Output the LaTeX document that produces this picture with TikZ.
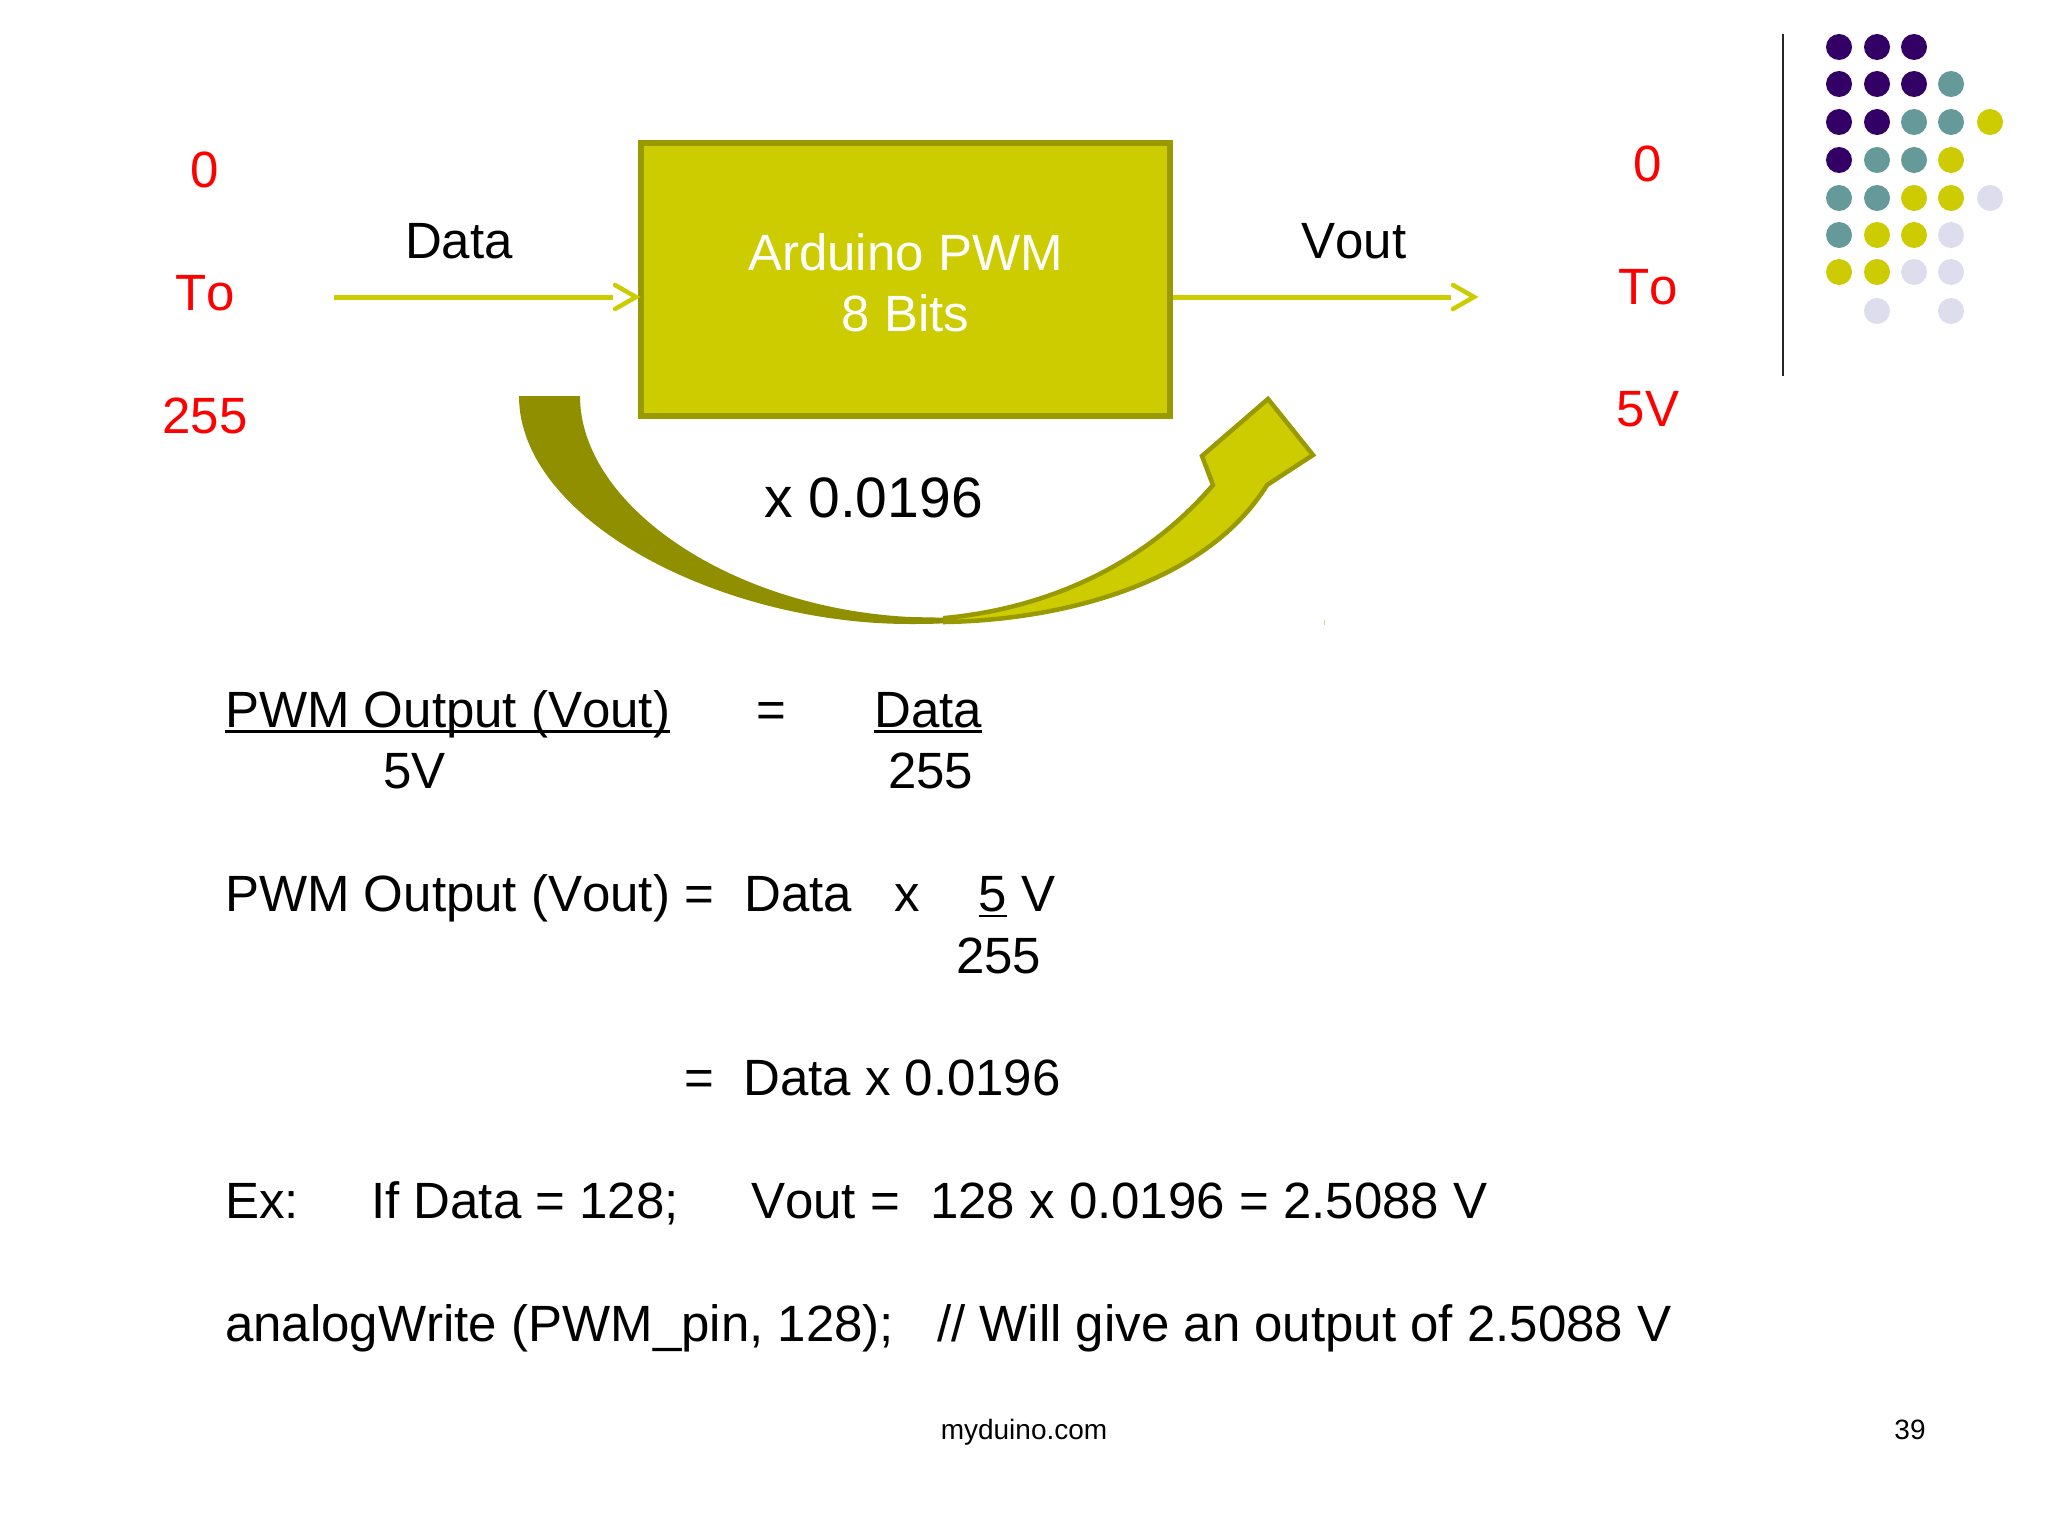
\documentclass[tikz,border=0pt]{standalone}
\usepackage{fontspec}
\setmainfont[Kerning=Off]{Liberation Sans}
\usetikzlibrary{arrows.meta}
\definecolor{boxfill}{HTML}{CCCC00}
\definecolor{boxedge}{HTML}{999900}
\definecolor{darkolive}{HTML}{8F8F00}
\definecolor{arrowlime}{HTML}{CCCC00}
\definecolor{dotpurple}{HTML}{330066}
\definecolor{dotteal}{HTML}{669999}
\definecolor{dotyellow}{HTML}{CCCC00}
\definecolor{dotlav}{HTML}{DDDDEE}
\definecolor{redtext}{HTML}{FF0000}
\newcommand\ulx[1]{\setbox0\hbox{#1}\rlap{\rule[-5.5pt]{\wd0}{2.6pt}}\box0 }
\tikzset{
  txt/.style={anchor=base west,inner sep=0pt,font=\fontsize{51}{51}\selectfont,text=black},
  lab/.style={anchor=base,inner sep=0pt,font=\fontsize{51}{51}\selectfont,text=black},
  redlab/.style={lab,text=redtext},
  small/.style={anchor=base,inner sep=0pt,font=\fontsize{28}{28}\selectfont,text=black},
  flow/.style={draw=arrowlime,line width=5pt,shorten >=23pt},
  barb/.style={draw=arrowlime,line width=4.5pt,line cap=round,line join=miter},
  dot/.style={circle,inner sep=0pt,minimum size=26pt},
  pu/.style={dot,fill=dotpurple},
  te/.style={dot,fill=dotteal},
  ye/.style={dot,fill=dotyellow},
  la/.style={dot,fill=dotlav}
}
\begin{document}
\begin{tikzpicture}[x=1pt,y=-1pt]
\useasboundingbox (0,0) rectangle (2048,1536);
\fill[white] (0,0) rectangle (2048,1536);
% decorative rule and dots
\coordinate (ruleA) at (1783,34);
\coordinate (ruleB) at (1783,376);
\draw[line width=2.2pt,black!85] (ruleA) -- (ruleB);
\foreach \cx/\cy/\st in {
 1839/47/pu,1877/47/pu,1914/47/pu,
 1839/84/pu,1877/84/pu,1914/84/pu,1951/84/te,
 1839/122/pu,1877/122/pu,1914/122/te,1951/122/te,1990/122/ye,
 1839/160/pu,1877/160/te,1914/160/te,1951/160/ye,
 1839/198/te,1877/198/te,1914/198/ye,1951/198/ye,1990/198/la,
 1839/235/te,1877/235/ye,1914/235/ye,1951/235/la,
 1839/272/ye,1877/272/ye,1914/272/la,1951/272/la,
 1877/311/la,1951/311/la}
  \node[\st] (d\cx-\cy) at (\cx,\cy) {};
% block
\node[draw=boxedge,fill=boxfill,line width=6pt,minimum width=529pt,minimum height=273pt,inner sep=0pt] (pwm) at (905.5,279.5) {};
\node[lab,text=white] (pwmA) at (905.5,270) {Arduino PWM};
\node[lab,text=white] (pwmB) at (905.5,331.5) {8 Bits};
% connectors
\coordinate (inS) at (334,297);
\coordinate (outE) at (1474,297);
\coordinate (inE) at ([xshift=-2]pwm.west |- inS);
\draw[flow] (inS) -- (inE);
\draw[flow] (pwm.east |- outE) -- (outE);
\draw[barb] ([shift={(-21,-12)}]inE) -- (inE) -- ([shift={(-21,12)}]inE);
\draw[barb] ([shift={(-21,-12)}]outE) -- (outE) -- ([shift={(-21,12)}]outE);
% labels
\node[lab] (data) at (459,258.7) {Data};
\node[lab] (vout) at (1354,258.7) {Vout};
\node[redlab] (l0) at (205,187.5) {0};
\node[redlab] (lTo) at (205.5,310.7) {To};
\node[redlab] (l255) at (205,433.7) {255};
\node[redlab] (r0) at (1648,182) {0};
\node[redlab] (rTo) at (1648,304.7) {To};
\node[redlab] (r5) at (1648,426.7) {5V};
\node[lab,font=\fontsize{57}{57}\selectfont] (gain) at (873.5,517.7) {x 0.0196};
% curved arrow
\fill[darkolive] (519,396) -- (580,396)
  .. controls (580,505) and (730,608) .. (910,617)
  -- (960,618) -- (960,622)
  .. controls (940,624) and (925,624) .. (910,624)
  .. controls (720,624) and (519,520) .. (519,396) -- cycle;
\draw[draw=boxedge,fill=boxfill,line width=4.5pt,line join=miter,miter limit=4]
  (945,618) .. controls (1040,609) and (1140,570) .. (1213,485)
  -- (1202,456) -- (1268,399) -- (1313,455) -- (1267,485)
  .. controls (1205,585) and (1060,620) .. (945,622) -- cycle;
\fill[darkolive!40] (1323.5,620) rectangle (1324.5,625);
% equations
\node[txt] (e1a) at (225,727) {\ulx{PWM Output (Vout)}};
\node[txt] (e1b) at (756,727) {=};
\node[txt] (e1c) at (874,727) {\ulx{Data}};
\node[txt] (e1d) at (383,788.7) {5V};
\node[txt] (e1e) at (888,788.7) {255};
\node[txt] (e2a) at (225,911.7) {PWM Output (Vout) =};
\node[txt] (e2b) at (744,911.7) {Data};
\node[txt] (e2c) at (894.5,911.7) {x};
\node[txt] (e2d) at (978.5,911.7) {\ulx{5} V};
\node[txt] (e2e) at (956,973) {255};
\node[txt] (e3a) at (684,1095.7) {=};
\node[txt] (e3b) at (743,1095.7) {Data x 0.0196};
\node[txt] (e4a) at (225,1218.7) {Ex:};
\node[txt] (e4b) at (371,1218.7) {If Data = 128;};
\node[txt] (e4c) at (751,1218.7) {Vout =};
\node[txt] (e4d) at (930,1218.7) {128 x 0.0196 = 2.5088 V};
\node[txt] (e5a) at (225,1341.7) {analogWrite (PWM\_pin, 128);};
\node[txt] (e5b) at (937,1341.7) {// Will give an output of 2.5088 V};
\node[small] (foot) at (1024,1439) {myduino.com};
\node[small] (page) at (1910,1439) {39};
\end{tikzpicture}
\end{document}
